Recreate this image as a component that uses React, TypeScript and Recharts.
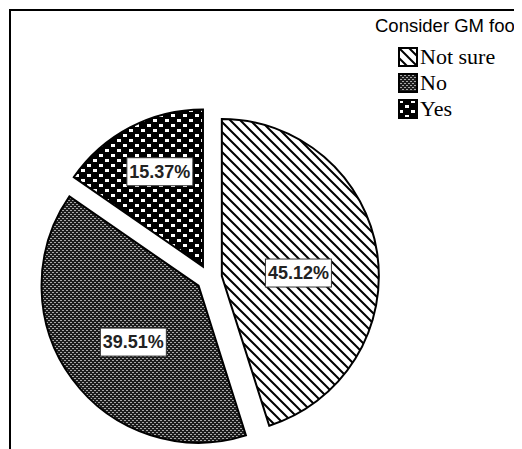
import { PieChart, Pie, Cell, Sector, Legend } from 'recharts';

const categories = ['Not sure', 'No', 'Yes'];
const shares = [45.12, 39.51, 15.37];
const legendTitle = 'Consider GM food';

// fill pattern per slice, same order as categories
const PATTERNS = ['pat-notsure', 'pat-no', 'pat-yes'];
// label placement: fraction of radius along the slice, then a small pixel nudge
const LABEL_POS = [0.5, 0.54, 0.66];
const LABEL_NUDGE = [[-1, 9], [3, 6], [5, -3]];
const EXPLODE = 13;
const RADIAN = Math.PI / 180;

const data = categories.map((name, i) => ({ name, value: shares[i] }));

function PatternDefs() {
  return (
    <svg width={0} height={0} style={{ position: 'absolute' }}>
      <defs>
        <pattern id="pat-notsure" patternUnits="userSpaceOnUse" width={10} height={10}>
          <rect width={10} height={10} fill="#fff" />
          <path d="M-2,-2 L12,12 M-2,8 L2,12 M8,-2 L12,2" stroke="#000" strokeWidth={2} />
        </pattern>
        <pattern id="pat-no" patternUnits="userSpaceOnUse" width={4} height={4}>
          <rect width={4} height={4} fill="#1c1c1c" />
          <rect x={0} y={0} width={2} height={1} fill="#a8a8a8" />
          <rect x={2} y={2} width={2} height={1} fill="#a8a8a8" />
        </pattern>
        <pattern id="pat-yes" patternUnits="userSpaceOnUse" width={12} height={10}>
          <rect width={12} height={10} fill="#000" />
          <rect x={1} y={1} width={4} height={3} fill="#fff" />
          <rect x={7} y={6} width={4} height={3} fill="#fff" />
        </pattern>
      </defs>
    </svg>
  );
}

// pie with every slice pulled out a bit from the centre
const ExplodedSector = (props: any) => {
  const { cx, cy, midAngle } = props;
  const dx = EXPLODE * Math.cos(-midAngle * RADIAN);
  const dy = EXPLODE * Math.sin(-midAngle * RADIAN);
  return <Sector {...props} cx={cx + dx} cy={cy + dy} stroke="#000" strokeWidth={2} />;
};

const renderLabel = (props: any) => {
  const { cx, cy, midAngle, outerRadius, index, value } = props;
  const r = EXPLODE + outerRadius * LABEL_POS[index];
  const x = cx + r * Math.cos(-midAngle * RADIAN) + LABEL_NUDGE[index][0];
  const y = cy + r * Math.sin(-midAngle * RADIAN) + LABEL_NUDGE[index][1];
  return (
    <g key={`lbl-${index}`}>
      <rect x={x - 33} y={y - 14} width={66} height={28} fill="#fff" stroke="#333" strokeWidth={1} />
      <text x={x} y={y} textAnchor="middle" dominantBaseline="central"
        fontFamily="'Liberation Sans', Arial, sans-serif" fontWeight="bold" fontSize={18} fill="#222">
        {`${Number(value).toFixed(2)}%`}
      </text>
    </g>
  );
};

const LegendBox = () => (
  <div style={{ fontFamily: "'Liberation Serif', 'Times New Roman', serif", color: '#000' }}>
    <div style={{ fontFamily: "'Liberation Sans', Arial, sans-serif", fontSize: 18.5, whiteSpace: 'nowrap', lineHeight: '20px' }}>
      {legendTitle}
    </div>
    <div style={{ marginLeft: 23, marginTop: 8 }}>
      {categories.map((c, i) => (
        <div key={c} style={{ display: 'flex', alignItems: 'center', height: 26, fontSize: 22, lineHeight: '22px' }}>
          <svg width={20} height={20} style={{ marginRight: 2 }}>
            <rect x={1} y={1} width={18} height={18} fill={`url(#${PATTERNS[i]})`} stroke="#000" strokeWidth={2} />
          </svg>
          <span>{c}</span>
        </div>
      ))}
    </div>
  </div>
);

export default function App() {
  return (
    <div style={{ position: 'relative', width: 514, height: 441, overflow: 'hidden', background: '#fff' }}>
      <PatternDefs />
      <div style={{ position: 'absolute', left: 1, top: 1, width: 600, height: 600, borderTop: '2px solid #000', borderLeft: '2px solid #000' }} />
      <PieChart width={514} height={441}>
        <Pie
          data={data} dataKey="value" nameKey="name"
          cx={196} cy={265} outerRadius={157}
          startAngle={90} endAngle={-270}
          shape={ExplodedSector} inactiveShape={ExplodedSector} activeShape={ExplodedSector}
          label={renderLabel} labelLine={false}
          isAnimationActive={false}
        >
          {data.map((d, i) => <Cell key={d.name} fill={`url(#${PATTERNS[i]})`} stroke="#000" />)}
        </Pie>
        <Legend content={<LegendBox />} layout="vertical" verticalAlign="top" align="right"
          wrapperStyle={{ top: 8, left: 367, width: 200 }} />
      </PieChart>
    </div>
  );
}
